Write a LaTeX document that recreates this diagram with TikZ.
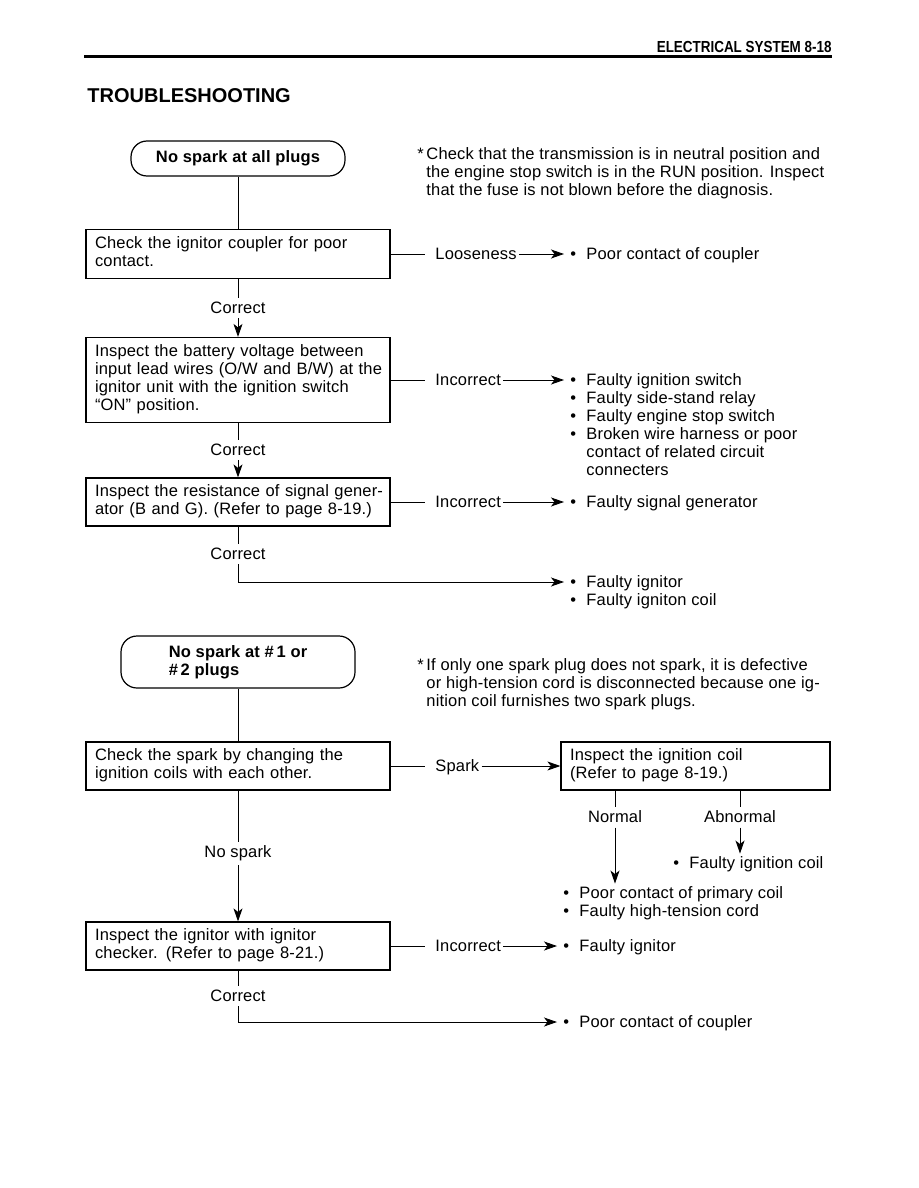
\documentclass[tikz,border=0pt]{standalone}
\usepackage{fontspec}
\setmainfont{Liberation Sans}[LetterSpace=1]
\usetikzlibrary{arrows.meta}

% bullet item of a result list
\newcommand{\itm}[1]{\makebox[16pt][l]{\textbullet}#1}
% lines of a box, never broken again
\newcommand{\boxlines}[1]{\begin{tabular}{@{}l@{}}#1\end{tabular}}

\begin{document}
\begin{tikzpicture}[x=1pt, y=-1pt, line width=0.9pt,
  every node/.style={font=\fontsize{16.5}{18}\selectfont},
  >={Stealth[length=13pt,width=9pt,inset=3.5pt]},
  box/.style={draw, line width=1.2pt, minimum width=304pt, text width=286pt, align=left, inner xsep=9pt},
  term/.style={draw, line width=1.2pt, rounded corners=16pt,
    font=\fontsize{16.5}{18}\selectfont\bfseries},
  lbl/.style={fill=white, inner sep=4pt},
  side/.style={anchor=west, inner xsep=2pt, inner ysep=0pt, text height=14pt, text depth=4pt},
  item/.style={anchor=west, inner xsep=6pt, inner ysep=0pt, text height=14pt, text depth=4pt},
  note/.style={anchor=west, align=left, inner sep=0pt}]

  \useasboundingbox (0,0) rectangle (918,1188);
  \fill[white] (0,0) rectangle (918,1188);

  % Page head
  \node[anchor=base east, inner sep=0pt, font=\fontsize{16}{18}\selectfont\bfseries\addfontfeature{LetterSpace=0}]
    (head) at (832,53) {\scalebox{0.84}[1]{ELECTRICAL SYSTEM 8-18}};
  \draw[line width=3pt] (84,57) -- (832,57);
  \node[anchor=base west, inner sep=0pt, font=\fontsize{20}{24}\selectfont\bfseries\addfontfeature{LetterSpace=0}]
    (title) at (87,103) {TROUBLESHOOTING};

  % ---- No spark at all plugs ----
  \node[term, minimum width=214pt, minimum height=35pt] (start1) at (238,158.5) {No spark at all plugs};
  \node[note] (note1) at (426,173) {\llap{*\,}Check that the transmission is in neutral position and\\
    the engine stop switch is in the RUN position. Inspect\\
    that the fuse is not blown before the diagnosis.};

  \node[box, minimum height=49pt] (coupler) at (238,254) {\boxlines{Check the ignitor coupler for poor\\contact.}};
  \node[box, minimum height=85pt] (battery) at (238,380) {\boxlines{Inspect the battery voltage between\\
    input lead wires (O/W and B/W) at the\\
    \makebox[286pt][s]{ignitor unit with the ignition switch}\\
    ``ON'' position.}};
  \node[box, minimum height=48pt] (siggen) at (238,502) {\boxlines{Inspect the resistance of signal gener-\\ator (B and G). (Refer to page 8-19.)}};

  % side labels
  \node[side] (loose) at (433,254) {Looseness};
  \node[side] (inc1) at (433,380) {Incorrect};
  \node[side] (inc2) at (433,502) {Incorrect};

  % results
  \node[item] (res1) at (564,254) {\itm{Poor contact of coupler}};
  \node[item] (res2a) at (564,380) {\itm{Faulty ignition switch}};
  \node[item] (res2b) at (564,398) {\itm{Faulty side-stand relay}};
  \node[item] (res2c) at (564,416) {\itm{Faulty engine stop switch}};
  \node[item] (res2d) at (564,434) {\itm{Broken wire harness or poor}};
  \node[item] (res2e) at (564,452) {\hspace*{16pt}contact of related circuit};
  \node[item] (res2f) at (564,470) {\hspace*{16pt}connecters};
  \node[item] (res3) at (564,502) {\itm{Faulty signal generator}};
  \node[item] (res4a) at (564,582) {\itm{Faulty ignitor}};
  \node[item] (res4b) at (564,600) {\itm{Faulty igniton coil}};

  % connectors
  \draw (start1.south) -- (coupler.north);
  \draw[->] (coupler.south) -- node[lbl]{Correct} (battery.north);
  \draw[->] (battery.south) -- node[lbl]{Correct} (siggen.north);
  \draw[->] (siggen.south) |- node[lbl, pos=0.25]{Correct} (res4a.west);

  \draw[shorten >=8pt] (coupler.east) -- (loose.west);
  \draw[->] (loose.east) -- (res1.west);
  \draw[shorten >=8pt] (battery.east) -- (inc1.west);
  \draw[->] (inc1.east) -- (res2a.west);
  \draw[shorten >=8pt] (siggen.east) -- (inc2.west);
  \draw[->] (inc2.east) -- (res3.west);

  % ---- No spark at #1 or #2 plugs ----
  \node[term, minimum width=234pt, minimum height=52pt, align=left] (start2) at (238,662) {No spark at \#\,1 or\\\#\,2 plugs};
  \node[note] (note2) at (426,684) {\llap{*\,}If only one spark plug does not spark, it is defective\\
    or high-tension cord is disconnected because one ig-\\
    nition coil furnishes two spark plugs.};

  \node[box, minimum height=48pt] (swap) at (238,766) {\boxlines{Check the spark by changing the\\ignition coils with each other.}};
  \node[box, minimum height=48pt, minimum width=269pt, text width=251pt] (coil) at (695.5,766) {\boxlines{Inspect the ignition coil\\(Refer to page 8-19.)}};
  \node[box, minimum height=48pt] (checker) at (238,946) {\boxlines{Inspect the ignitor with ignitor\\checker. (Refer to page 8-21.)}};

  \node[side] (spark) at (433,766) {Spark};
  \node[side] (inc3) at (433,946) {Incorrect};
  \node[lbl] (normal) at (615,817) {Normal};
  \node[lbl] (abnormal) at (740,817) {Abnormal};

  \node[item] (res5) at (667,863) {\itm{Faulty ignition coil}};
  \node[item] (res6a) at (557,893) {\itm{Poor contact of primary coil}};
  \node[item] (res6b) at (557,911) {\itm{Faulty high-tension cord}};
  \node[item] (res7) at (557,946) {\itm{Faulty ignitor}};
  \node[item] (res8) at (557,1022) {\itm{Poor contact of coupler}};

  \draw (start2.south) -- (swap.north);
  \draw[->] (swap.south) -- node[lbl, pos=0.48]{No spark} (checker.north);
  \draw[->] (checker.south) |- node[lbl, pos=0.25]{Correct} (res8.west);

  \draw[shorten >=8pt] (swap.east) -- (spark.west);
  \draw[->] (spark.east) -- (coil.west);
  \draw (coil.south -| normal) -- (normal.north);
  \draw[->] (normal.south) -- (normal.south |- res6a.north);
  \draw (coil.south -| abnormal) -- (abnormal.north);
  \draw[->] (abnormal.south) -- (abnormal.south |- res5.north);
  \draw[shorten >=8pt] (checker.east) -- (inc3.west);
  \draw[->] (inc3.east) -- (res7.west);
\end{tikzpicture}
\end{document}
